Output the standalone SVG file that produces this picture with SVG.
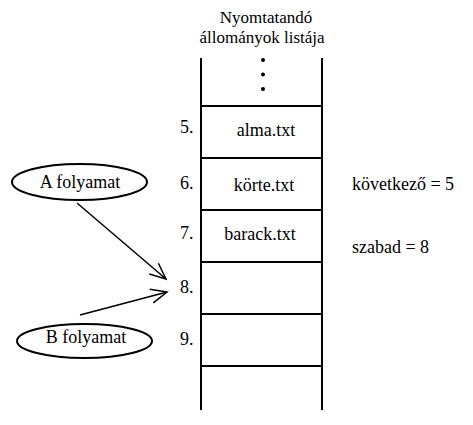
<svg xmlns="http://www.w3.org/2000/svg" width="473" height="425" viewBox="0 0 473 425">
<style>
.ln{stroke:#000;stroke-width:2;fill:none}
.el{stroke:#000;stroke-width:2;fill:#fff}
.ar{stroke:#000;stroke-width:1.5;fill:none}
</style>
<defs>
<marker id="open" markerUnits="userSpaceOnUse" markerWidth="18" markerHeight="16" refX="16" refY="7" orient="auto" overflow="visible">
<path d="M0,0 L16,7 L0,14" fill="none" stroke="#000" stroke-width="1.5"/>
</marker>
</defs>
<rect width="473" height="425" fill="#fff"/>
<g font-family="Liberation Serif, Times New Roman, serif" font-size="18" fill="#000">
<g id="list">
<text x="266" y="23" text-anchor="middle" font-size="17">Nyomtatandó</text>
<text x="262" y="43" text-anchor="middle" font-size="17">állományok listája</text>
<path class="ln" d="M201,58 V410 M322,58 V410 M201,106 H322 M201,158 H322 M201,210 H322 M201,262 H322 M201,314 H322 M201,366 H322"/>
<circle cx="263" cy="60" r="2"/>
<circle cx="263" cy="74.5" r="2"/>
<circle cx="263" cy="89" r="2"/>
<text x="180" y="133">5.</text>
<text x="180" y="189">6.</text>
<text x="180" y="239">7.</text>
<text x="180" y="293">8.</text>
<text x="180" y="345">9.</text>
<text x="266" y="136" text-anchor="middle">alma.txt</text>
<text x="264" y="191" text-anchor="middle">körte.txt</text>
<text x="260" y="240" text-anchor="middle">barack.txt</text>
</g>
<g id="info">
<text x="352" y="190">következő = 5</text>
<text x="352" y="253">szabad = 8</text>
</g>
<g id="procA">
<ellipse class="el" cx="79.5" cy="182" rx="67.5" ry="18"/>
<text x="80" y="188" text-anchor="middle">A folyamat</text>
</g>
<g id="procB">
<ellipse class="el" cx="84.5" cy="341" rx="67.5" ry="17"/>
<text x="86" y="343" text-anchor="middle">B folyamat</text>
</g>
</g>
<g id="connectors">
<line class="ar" x1="77" y1="203" x2="166" y2="279" marker-end="url(#open)"/>
<line class="ar" x1="80" y1="315" x2="167" y2="292" marker-end="url(#open)"/>
</g>
</svg>
